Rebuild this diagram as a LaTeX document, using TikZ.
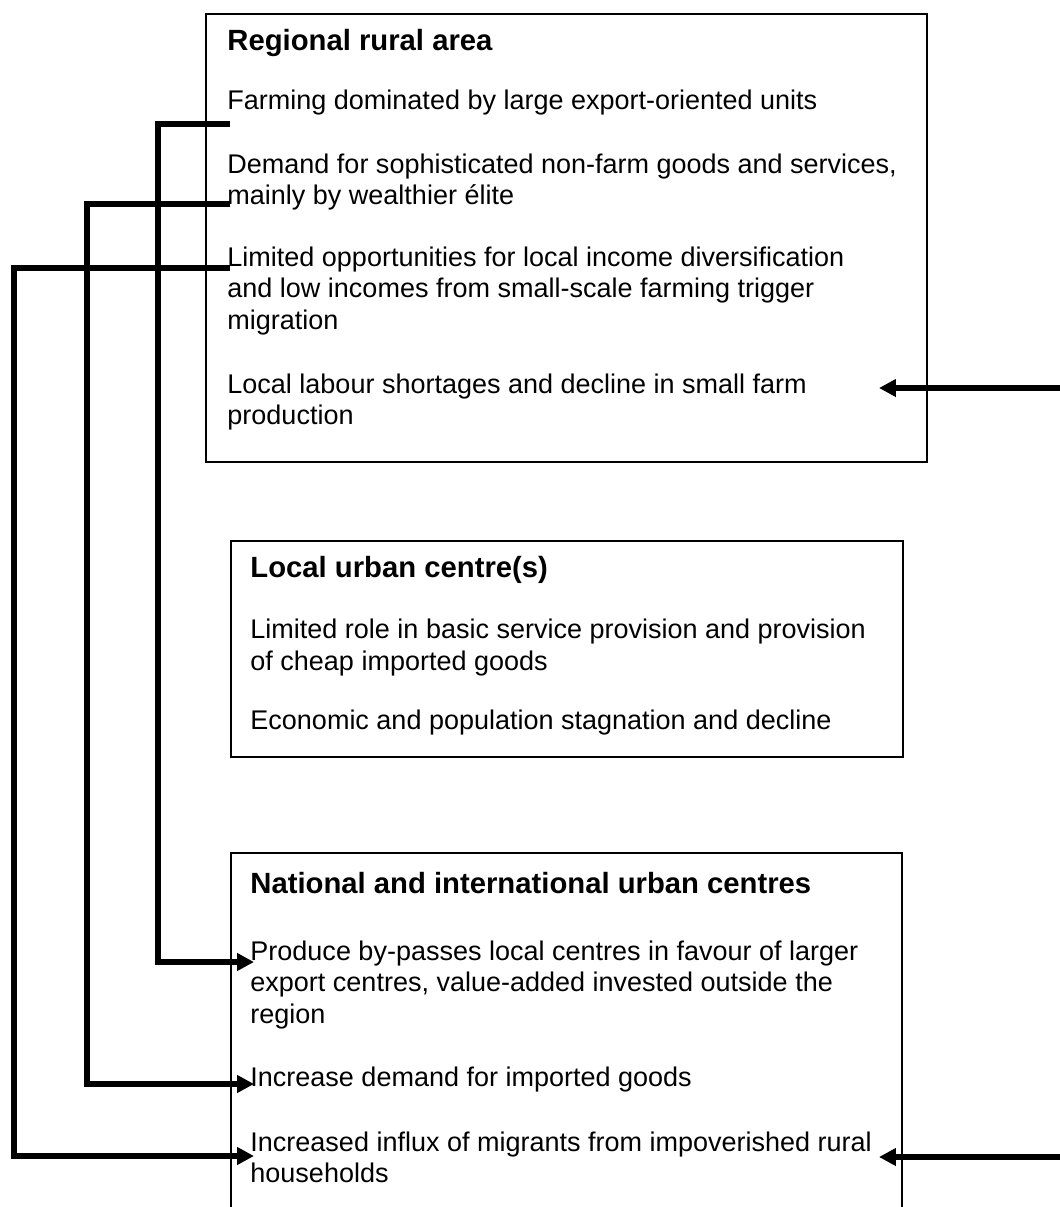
\documentclass[tikz,border=0pt]{standalone}
\usepackage{fontspec}
\setmainfont{Liberation Sans}
\usetikzlibrary{arrows.meta}

\tikzset{
  item/.style={anchor=west, inner sep=0pt, align=left, font=\fontsize{12}{13.8}\selectfont},
  head/.style={item, font=\fontsize{13}{15}\selectfont\bfseries},
  link/.style={line width=2.4pt, -{Triangle[length=7.5pt,width=7.5pt]}},
}

\begin{document}
\begin{tikzpicture}[x=0.4444pt, y=-0.4444pt]
  \useasboundingbox (0,0) rectangle (1059,1207);

  % frames
  \draw[line width=0.8pt] (206,14) rectangle (927,462);
  \draw[line width=1.3pt] (206,462) -- (927,462) -- (927,14);
  \draw[line width=0.9pt] (231,541) rectangle (903,757);
  \draw[line width=0.8pt] (231,853) rectangle (902,1240);

  % regional rural area
  \node[head] (rural) at (227,43) {Regional rural area};
  \node[item] (farm) at (227,103) {Farming dominated by large export-oriented units};
  \node[item] (demand) at (227,182) {Demand for sophisticated non-farm goods and services,\\mainly by wealthier élite};
  \node[item] (limited) at (227,291) {Limited opportunities for local income diversification\\and low incomes from small-scale farming trigger\\migration};
  \node[item] (labour) at (227,402) {Local labour shortages and decline in small farm\\production};

  % local urban centre(s)
  \node[head] (local) at (250,570) {Local urban centre(s)};
  \node[item] (role) at (250,647.5) {Limited role in basic service provision and provision\\of cheap imported goods};
  \node[item] (stag) at (250,723) {Economic and population stagnation and decline};

  % national and international urban centres
  \node[head] (nation) at (250,883) {National and international urban centres};
  \node[item] (produce) at (250,985) {Produce by-passes local centres in favour of larger\\export centres, value-added invested outside the\\region};
  \node[item] (imports) at (250,1080) {Increase demand for imported goods};
  \node[item] (influx) at (250,1157) {Increased influx of migrants from impoverished rural\\households};

  % connector ends
  \coordinate (farmout) at (230,124);
  \coordinate (demandout) at (230,204);
  \coordinate (limitedout) at (230,268);
  \coordinate (producein) at (254,962);
  \coordinate (importsin) at (254,1084);
  \coordinate (influxin) at (254,1156);
  \coordinate (labourin) at (879,388);
  \coordinate (influxright) at (879,1157);
  \coordinate (edgetop) at (1062,388);
  \coordinate (edgebot) at (1062,1157);

  \draw[link] (farmout) -- ++(-72,0) |- (producein);
  \draw[link] (demandout) -- ++(-143,0) |- (importsin);
  \draw[link] (limitedout) -- ++(-216,0) |- (influxin);
  \draw[link] (edgetop) -- (labourin);
  \draw[link] (edgebot) -- (influxright);
\end{tikzpicture}
\end{document}
